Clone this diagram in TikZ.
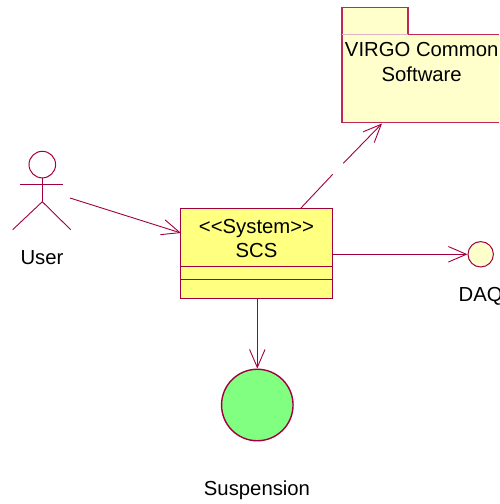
\documentclass[tikz,border=0pt]{standalone}
\usepackage{fontspec}
\setmainfont{Liberation Sans}
\usetikzlibrary{arrows.meta,positioning}
\definecolor{umlline}{HTML}{A00040}
\definecolor{pkgline}{HTML}{C02858}
\definecolor{classfill}{HTML}{FFFF80}
\definecolor{pkgfill}{HTML}{FFFFCC}
\definecolor{greenfill}{HTML}{80FF80}
\tikzset{
  label text/.style={inner sep=0pt,text=black,font=\fontsize{20.3}{24.3}\selectfont,align=center},
  connector/.style={draw=umlline,line width=0.9pt,-{Straight Barb[length=18pt,width=15.5pt,line width=0.9pt]}},
  plainline/.style={draw=umlline,line width=0.9pt},
  shapeline/.style={draw=pkgline,line width=1.1pt},
}
\begin{document}
\begin{tikzpicture}[x=1pt,y=-1pt]
\useasboundingbox (0,0) rectangle (499,504);
% package
\fill[pkgfill] (342,7.5) -- (408,7.5) -- (408,34.5) -- (499,34.5) -- (499,122.5) -- (342,122.5) -- cycle;
\draw[shapeline] (499,34.5) -- (408,34.5) -- (408,7.5) -- (342,7.5) -- (342,122.5) -- (499,122.5);
\draw[umlline!30,line width=0.6pt] (342,34.5) -- (408,34.5);
\node[label text] (pkg) at (421.7,62) {VIRGO Common\\Software};
\coordinate (pkgport) at (382,123.5);
% class
\node[draw=umlline,line width=1.2pt,fill=classfill,minimum width=151.5pt,minimum height=89.5pt,inner sep=0pt] (scs) at (256.5,253.5) {};
\node[label text] (scstext) at (256.5,238.5) {<\kern0pt<System>\kern0pt>\\SCS};
\draw[umlline,line width=0.8pt] (scs.west |- 0,266.7) -- (scs.east |- 0,266.7);
\draw[umlline,line width=0.8pt] (scs.west |- 0,279) -- (scs.east |- 0,279);
% actor
\node[circle,draw=umlline,line width=1pt,minimum size=26.6pt,inner sep=0pt] (head) at (42.3,164.6) {};
\coordinate (arml) at (20.3,184.3);
\coordinate (armr) at (63,184.3);
\coordinate (hip) at (42.3,201.7);
\coordinate (legl) at (12.7,229.7);
\coordinate (legr) at (70.7,229.7);
\draw[plainline] (head.south) -- (hip);
\draw[plainline] (arml) -- (armr);
\draw[plainline] (legl) -- (hip) -- (legr);
\node[label text] (user) at (42,258) {User};
% DAQ
\node[circle,draw=umlline,line width=1pt,fill=pkgfill,minimum size=25.4pt,inner sep=0pt] (daq) at (480.7,254.3) {};
\node[label text,anchor=west] (daqtext) at (458.5,296) {DAQ};
% Suspension
\node[circle,draw=umlline,line width=1.4pt,fill=greenfill,minimum size=71.5pt,inner sep=0pt] (susp) at (257.3,405) {};
\node[label text] (susptext) at (257,490) {Suspension};
% connectors
\coordinate (userport) at (70,198);
\coordinate (scsin) at (181,233);
\draw[connector] (userport) -- (scsin);
\draw[connector] (scs.east |- daq.west) -- (daq.west);
\draw[connector] (scs.south -| susp.north) -- (susp.north);
\coordinate (scsout) at (300.5,208.5);
\coordinate (gapa) at (332.7,174.3);
\coordinate (gapb) at (343.3,163.3);
\draw[plainline] (scsout) -- (gapa);
\draw[connector] (gapb) -- (pkgport);
\end{tikzpicture}
\end{document}
